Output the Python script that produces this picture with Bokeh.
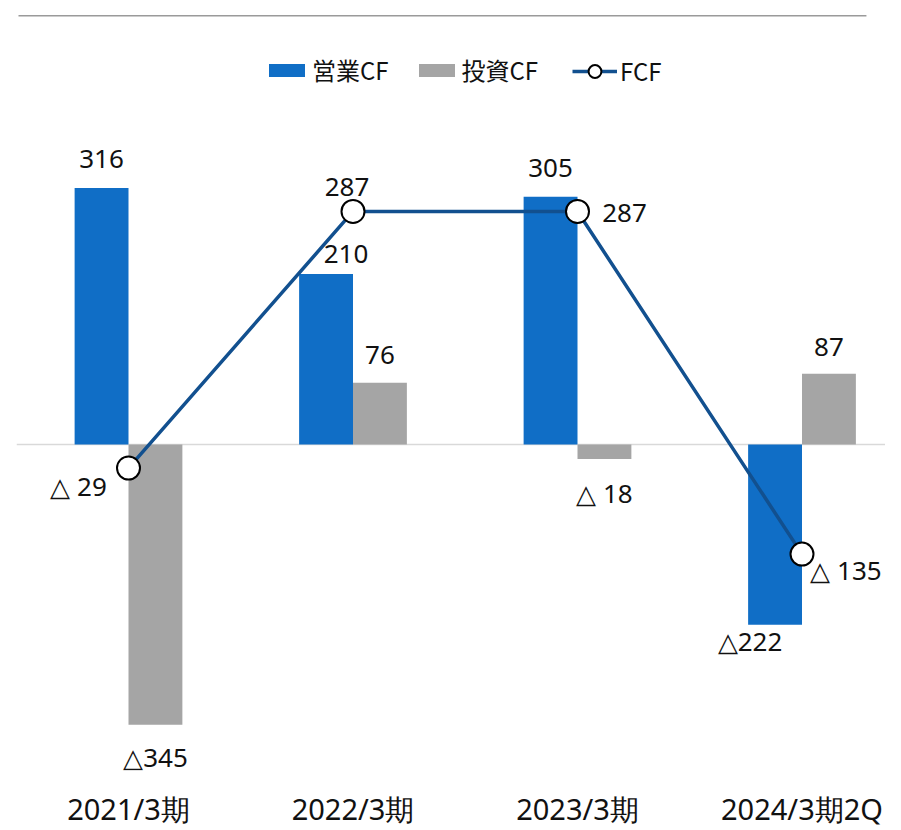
from bokeh.plotting import figure
from bokeh.models import ColumnDataSource, Legend, LegendItem, Span, FixedTicker
from bokeh.core.properties import value
from bokeh.transform import dodge
from bokeh.embed import file_html
from bokeh.resources import INLINE

# ---- data ----
categories = ["2021/3期", "2022/3期", "2023/3期", "2024/3期2Q"]
operating_cf = [316, 210, 305, -222]
investing_cf = [-345, 76, -18, 87]
fcf = [-29, 287, 287, -135]
op_labels = ["316", "210", "305", "△222"]
inv_labels = ["△345", "76", "△ 18", "87"]
fcf_labels = ["△ 29", "287", "287", "△ 135"]
series_names = ["営業CF", "投資CF", "FCF"]

# ---- style ----
BLUE = "#106EC6"
GRAY = "#A5A5A5"
LINE = "#12508F"
FONT = "Noto Sans"

idx = list(range(len(categories)))
BAR_W = 0.24
PX_PER_CAT = 224.5
PX_PER_UNIT = 0.812
FRAME_W, FRAME_H = 869, 762
x_start = -112 / PX_PER_CAT
y_end = 436 / PX_PER_UNIT

p = figure(frame_width=FRAME_W, frame_height=FRAME_H,
           x_range=(x_start, x_start + FRAME_W / PX_PER_CAT),
           y_range=(y_end - FRAME_H / PX_PER_UNIT, y_end),
           output_backend="svg", toolbar_location=None,
           y_axis_location=None,
           min_border_left=16, min_border_right=0, min_border_top=8, min_border_bottom=0)
p.xgrid.visible = False
p.ygrid.visible = False
p.outline_line_color = None
p.background_fill_color = "white"

src = ColumnDataSource(dict(x=idx, op=operating_cf, inv=investing_cf, fcf=fcf))

zero = Span(location=0, dimension="width", line_color="#D9D9D9", line_width=1.5, level="underlay")
p.add_layout(zero)

rb = p.vbar(x=dodge("x", -BAR_W / 2, range=p.x_range), top="op", bottom=0, width=BAR_W,
            source=src, fill_color=BLUE, line_color=None)
rg = p.vbar(x=dodge("x", BAR_W / 2, range=p.x_range), top="inv", bottom=0, width=BAR_W,
            source=src, fill_color=GRAY, line_color=None)
rl = p.line("x", "fcf", source=src, line_color=LINE, line_width=3.5)
rs = p.scatter("x", "fcf", source=src, marker="circle", size=23, fill_color="white",
               line_color="black", line_width=2)

# decorative rule under (cropped) title
p.segment(x0=[-0.49], y0=[528], x1=[3.287], y1=[528], line_color="#9A9A9A", line_width=1.5)

# ---- data labels ----
op_dx = [0, 20, 0, -25]
op_dy = [-29, -20, -29, 16]
inv_dx = [0, 0, 0, 0]
inv_dy = [32, -28, 34, -27]
fcf_dx = [-50, -6, 47, 44]
fcf_dy = [18, -24, 2, 16]

lx, ly, lt, ldx, ldy = [], [], [], [], []
for i in idx:
    lx.append(i - BAR_W / 2); ly.append(operating_cf[i]); lt.append(op_labels[i])
    ldx.append(op_dx[i]); ldy.append(op_dy[i])
    lx.append(i + BAR_W / 2); ly.append(investing_cf[i]); lt.append(inv_labels[i])
    ldx.append(inv_dx[i]); ldy.append(inv_dy[i])
    lx.append(i); ly.append(fcf[i]); lt.append(fcf_labels[i])
    ldx.append(fcf_dx[i]); ldy.append(fcf_dy[i])
lsrc = ColumnDataSource(dict(x=lx, y=ly, text=lt, dx=ldx, dy=ldy))
p.text(x="x", y="y", text="text", x_offset="dx", y_offset="dy", source=lsrc,
       text_align="center", text_baseline="middle", text_font=value(FONT),
       text_font_size="26px", text_color="#111111")

# ---- axis ----
p.xaxis.ticker = FixedTicker(ticks=idx)
p.xaxis.major_label_overrides = {i: c for i, c in zip(idx, categories)}
p.xaxis.axis_line_color = None
p.xaxis.major_tick_line_color = None
p.xaxis.minor_tick_line_color = None
p.xaxis.major_label_standoff = 12
p.xaxis.major_label_text_font = FONT
p.xaxis.major_label_text_font_size = "29px"
p.xaxis.major_label_text_color = "#111111"

# ---- legends ----
common = dict(orientation="horizontal", label_standoff=3, spacing=25, padding=0, margin=0,
              border_line_color=None, background_fill_alpha=0,
              label_text_font="Noto Sans CJK JP", label_text_font_size="24px",
              label_text_color="#111111", glyph_width=45)
legend1 = Legend(items=[LegendItem(label=series_names[0], renderers=[rb]),
                        LegendItem(label=series_names[1], renderers=[rg])],
                 location=(248, 683), glyph_height=16, **common)
legend2 = Legend(items=[LegendItem(label=series_names[2], renderers=[rl, rs])],
                 location=(556, 682), glyph_height=32, **common)
p.add_layout(legend1)
p.add_layout(legend2)

open("out.html", "w").write(file_html(p, INLINE))
